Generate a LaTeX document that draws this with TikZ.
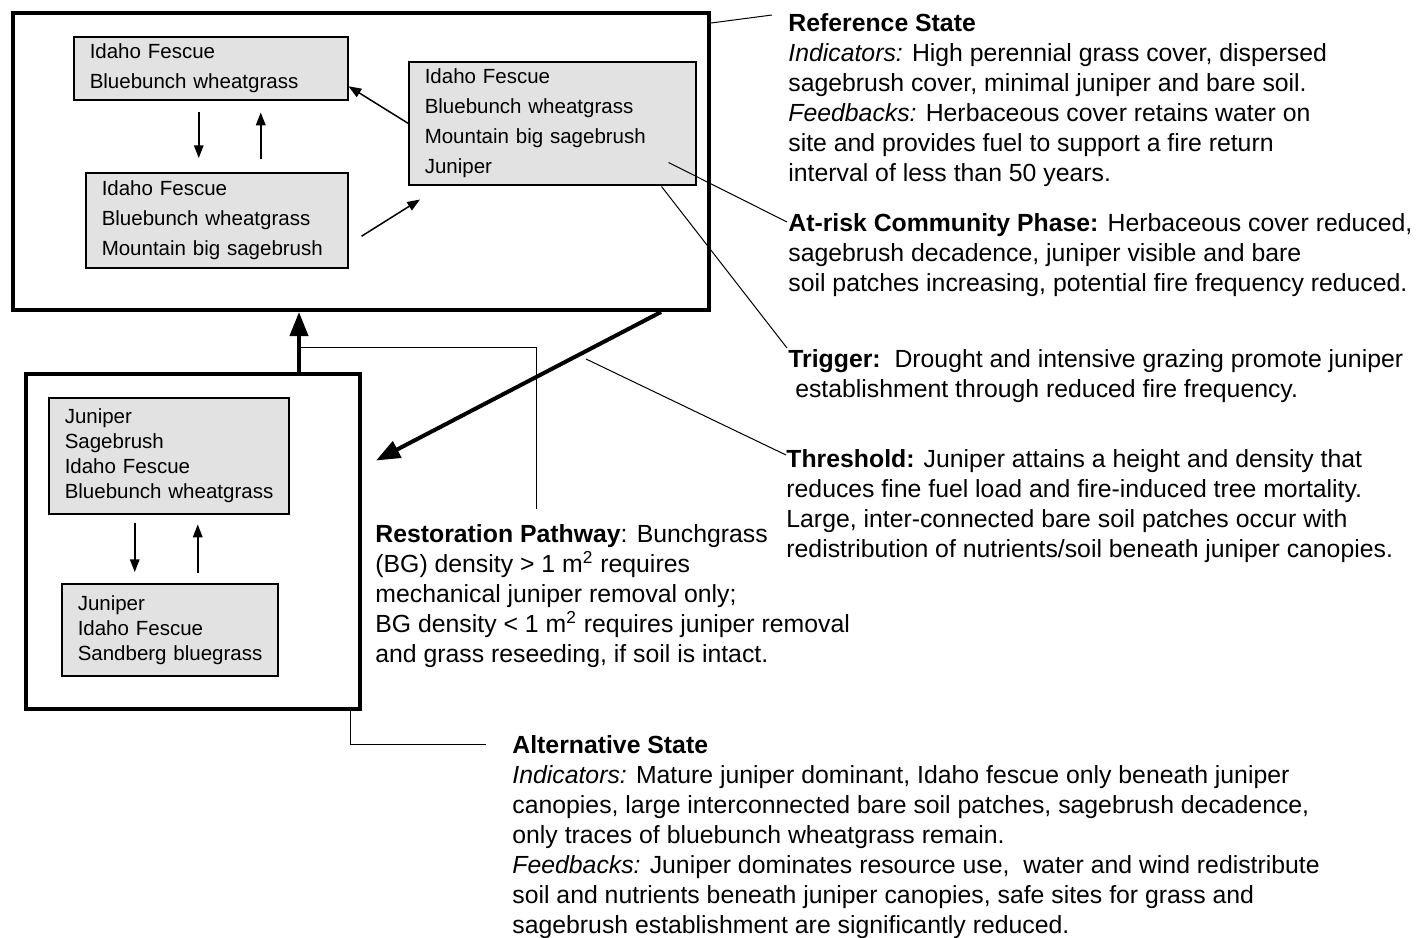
\documentclass[tikz,border=0pt]{standalone}
\usepackage{fontspec}
\setmainfont{Liberation Sans}
\usetikzlibrary{arrows.meta}
\definecolor{grigio}{HTML}{E2E2E2}
\tikzset{
>={Stealth[inset=0pt]},
stato/.style={draw,line width=2pt,anchor=north west,inner sep=0pt},
fase/.style={draw,fill=grigio,line width=0.75pt,anchor=north west,inner xsep=8pt,inner ysep=0pt,align=left,
  font={\fontsize{10.25pt}{15pt}\selectfont\hbadness=10000\hfuzz=20pt}},
fase stretta/.style={fase,font={\fontsize{10.25pt}{12.5pt}\selectfont\hbadness=10000\hfuzz=20pt}},
nota/.style={anchor=north west,inner sep=0pt,align=left,font={\fontsize{12.4pt}{15pt}\selectfont}},
freccia/.style={->,line width=0.75pt},
freccia spessa/.style={->,line width=2pt},
guida/.style={line width=0.5pt}}

\begin{document}
\begin{tikzpicture}[x=0.5pt,y=-0.5pt]

      \useasboundingbox (0,0) rectangle (1427,937);

      \node (rif) [stato,minimum width=348pt,minimum height=148.5pt] at (11,11) {};
      \node (alt) [stato,minimum width=167pt,minimum height=167.5pt] at (24,372) {};

      \node (f1) [fase,text width=121pt,minimum height=31.5pt] at (73,36) {Idaho Fescue\\\mbox{Bluebunch wheatgrass}};
      \node (f2) [fase,text width=127.5pt,minimum height=61.5pt] at (408,61) {Idaho Fescue\\\mbox{Bluebunch wheatgrass}\\\mbox{Mountain big sagebrush}\\Juniper};
      \node (f3) [fase,text width=115pt,minimum height=47.5pt] at (85,172) {Idaho Fescue\\\mbox{Bluebunch wheatgrass}\\\mbox{Mountain big sagebrush}};
      \node (f4) [fase stretta,text width=104pt,minimum height=58pt] at (48,397) {Juniper\\Sagebrush\\Idaho Fescue\\\mbox{Bluebunch wheatgrass}};
      \node (f5) [fase stretta,text width=92pt,minimum height=46pt] at (61,583) {Juniper\\Idaho Fescue\\\mbox{Sandberg bluegrass}};

      \node (t1) [nota] at (788,13) {\textbf{Reference State}\\
        {\itshape Indicators:} High perennial grass cover, dispersed\\
        sagebrush cover, minimal juniper and bare soil.\\
        {\itshape Feedbacks:} Herbaceous cover retains water on\\
        site and provides fuel to support a fire return\\
        interval of less than 50 years.};
      \node (t2) [nota] at (788,213) {\textbf{At-risk Community Phase:} Herbaceous cover reduced,\\
        sagebrush decadence, juniper visible and bare\\
        soil patches increasing, potential fire frequency reduced.};
      \node (t3) [nota] at (788,349) {\textbf{Trigger:}\ \ Drought and intensive grazing promote juniper\\
        \ establishment through reduced fire frequency.};
      \node (t4) [nota] at (786,449) {\textbf{Threshold:} Juniper attains a height and density that\\
        reduces fine fuel load and fire-induced tree mortality.\\
        Large, inter-connected bare soil patches occur with\\
        redistribution of nutrients/soil beneath juniper canopies.};
      \node (t5) [nota] at (375,524) {\textbf{Restoration Pathway}: Bunchgrass\\
        (BG) density > 1 m\textsuperscript{2} requires\\
        mechanical juniper removal only;\\
        BG density < 1 m\textsuperscript{2} requires juniper removal\\
        and grass reseeding, if soil is intact.};
      \node (t6) [nota] at (512,735) {\textbf{Alternative State}\\
        {\itshape Indicators:} Mature juniper dominant, Idaho fescue only beneath juniper\\
        canopies, large interconnected bare soil patches, sagebrush decadence,\\
        only traces of bluebunch wheatgrass remain.\\
        {\itshape Feedbacks:} Juniper dominates resource use,\ \ water and wind redistribute\\
        soil and nutrients beneath juniper canopies, safe sites for grass and\\
        sagebrush establishment are significantly reduced.};

      \coordinate (rp) at (298,347);
      \coordinate (soglia) at (586,359);

      \draw[freccia,shorten <=5.5pt,shorten >=7pt] ([xshift=-6pt]f1.south) -- ([xshift=-6pt]f1.south |- f3.north);
      \draw[freccia,shorten <=6.5pt,shorten >=6pt] ([xshift=25pt]f1.south |- f3.north) -- ([xshift=25pt]f1.south);
      \draw[freccia] (f2.west) -- ([yshift=-9pt]f1.east);
      \draw[freccia] ([shift={(13,16)}]f3.east) -- ([shift={(12,14)}]f2.south west);
      \draw[freccia,shorten <=4pt,shorten >=5.5pt] ([xshift=-17pt]f4.south) -- ([xshift=-17pt]f4.south |- f5.north);
      \draw[freccia,shorten <=5pt,shorten >=5pt] ([xshift=14.5pt]f4.south |- f5.north) -- ([xshift=14.5pt]f4.south);

      \draw[freccia spessa] ([xshift=53pt]alt.north) -- ([xshift=53pt]alt.north |- rif.south);
      \draw[freccia spessa] ([xshift=-25pt]rif.south east) -- ([shift={(14,-81)}]alt.east);

      \draw[guida] ([yshift=-6pt]rif.north east) -- ([shift={(-16,2)}]t1.north west);
      \draw[guida] ([shift={(-28,-23)}]f2.south east) -- ([shift={(-1,9)}]t2.north west);
      \draw[guida] ([shift={(-35,1)}]f2.south east) -- ([shift={(-1,-1)}]t3.north west);
      \draw[guida] (soglia) -- ([shift={(0,6)}]t4.north west);
      \draw[guida] (rp) -| ([shift={(161,-15)}]t5.north west);
      \draw[guida] ([xshift=-6pt]alt.south east) |- ([shift={(-26,9)}]t6.north west);
\end{tikzpicture}
\end{document}
